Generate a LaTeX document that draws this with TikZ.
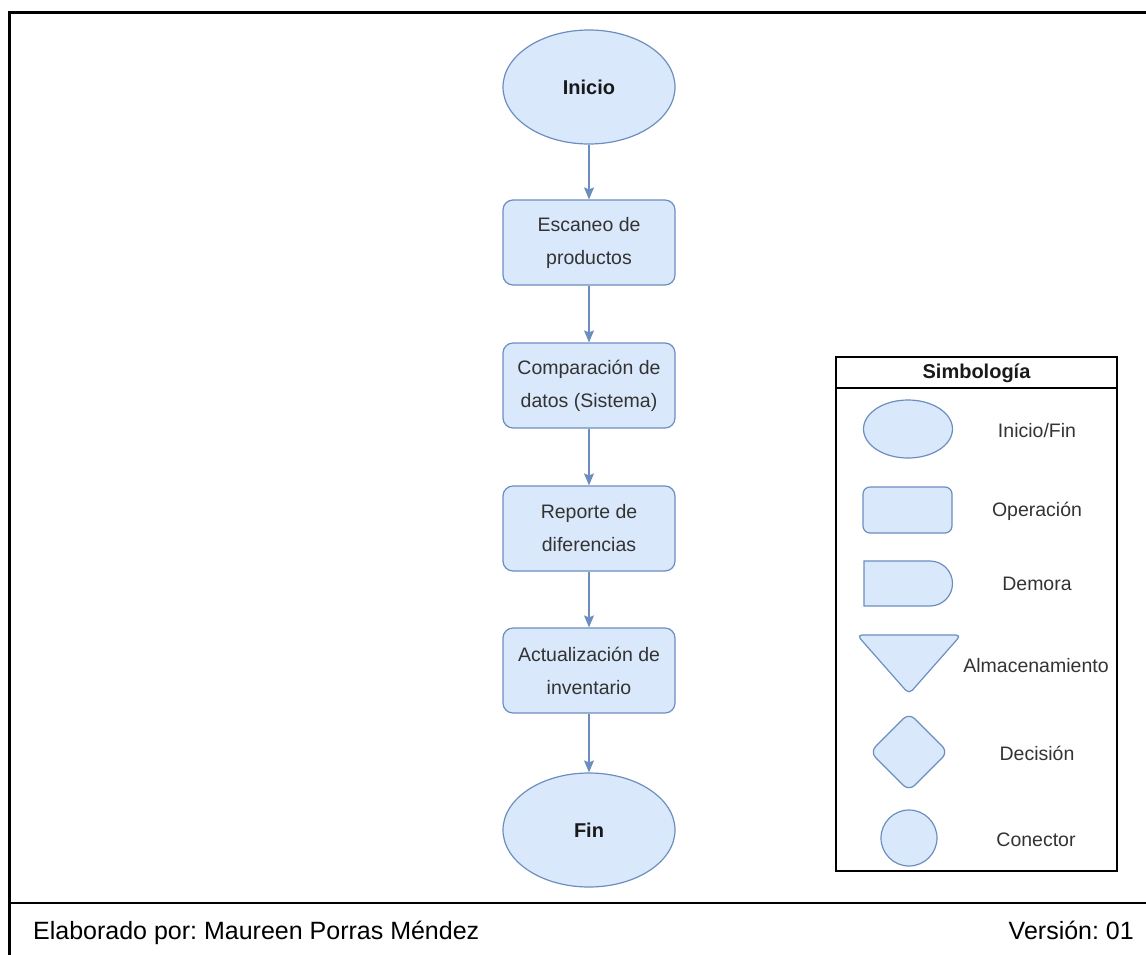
\documentclass[tikz,border=0pt]{standalone}
\usepackage{fontspec}
\setmainfont{Liberation Sans}
\usetikzlibrary{shapes.geometric,arrows.meta}
\definecolor{flowfill}{HTML}{DAE8FC}
\definecolor{flowline}{HTML}{6C8EBF}
\definecolor{txtgray}{HTML}{333333}
\frenchspacing
\begin{document}
\begin{tikzpicture}[x=1pt,y=-1pt,
  shapebase/.style={draw=flowline,fill=flowfill,line width=1.2pt},
  terminal/.style={shapebase,ellipse,minimum width=172pt,minimum height=114pt,
    inner sep=0pt,font=\fontsize{20}{24}\selectfont\bfseries,text=black!90},
  process/.style={shapebase,rectangle,rounded corners=10pt,minimum width=172pt,
    minimum height=85pt,inner sep=0pt,align=center,
    font=\fontsize{19.5}{33}\selectfont,text=txtgray},
  flowarrow/.style={draw=flowline,line width=1.2pt,
    -{Stealth[length=12pt,width=10pt,inset=2pt]}},
  legendtext/.style={font=\fontsize{19.5}{24}\selectfont,text=txtgray,anchor=center},
  footertext/.style={font=\fontsize{25}{30}\selectfont,text=black,inner sep=0pt}]
\useasboundingbox (0,0) rectangle (1146,954);

% page frame and footer rule
\draw[line width=3pt] (9.5,1000) -- (9.5,12.5) -- (1200,12.5);
\draw[line width=2.2pt] (9.5,903) -- (1200,903);
\node[footertext,anchor=base west] (author) at (33,939) {Elaborado por: Maureen Porras Méndez};
\node[footertext,anchor=base east] (version) at (1134,939) {Versión: 01};

% process flow
\node[terminal] (inicio) at (589,87) {Inicio};
\node[process] (escaneo) at (589,242.5) {Escaneo de\\productos};
\node[process] (comparacion) at (589,385.5) {Comparación de\\datos (Sistema)};
\node[process] (reporte) at (589,528.5) {Reporte de\\diferencias};
\node[process] (actualizacion) at (589,670.5) {Actualización de\\inventario};
\node[terminal] (fin) at (589,830) {Fin};

\draw[flowarrow] (inicio) -- (escaneo);
\draw[flowarrow] (escaneo) -- (comparacion);
\draw[flowarrow] (comparacion) -- (reporte);
\draw[flowarrow] (reporte) -- (actualizacion);
\draw[flowarrow] (actualizacion) -- (fin);

% symbol legend
\draw[line width=1.4pt] (836,357) rectangle (1117,871);
\draw[line width=1.4pt] (836,388) -- (1117,388);
\node[font=\fontsize{20}{24}\selectfont\bfseries,text=black!90] (legtitle) at (976.5,373) {Simbología};

\node[shapebase,ellipse,minimum width=89pt,minimum height=58pt,inner sep=0pt] (symterm) at (908,429) {};
\node[legendtext] (lblterm) at (1037,431) {Inicio/Fin};

\node[shapebase,rectangle,rounded corners=7pt,minimum width=89pt,minimum height=46pt,inner sep=0pt] (symop) at (907.5,510) {};
\node[legendtext] (lblop) at (1037,511) {Operación};

% delay symbol: flat left side, half-round right side
\draw[shapebase] (864,561) -- (930,561) arc[start angle=-90,end angle=90,radius=22.5] -- (864,606) -- cycle;
\node[legendtext] (lbldelay) at (1037,584) {Demora};

\draw[shapebase,rounded corners=5pt] (857,635) -- (961,635) -- (909,694) -- cycle;
\node[legendtext] (lblstore) at (1036,666) {Almacenamiento};

\draw[shapebase,rounded corners=8pt] (909,713) -- (948,752) -- (909,791) -- (870,752) -- cycle;
\node[legendtext] (lbldecision) at (1037,753) {Decisión};

\node[shapebase,circle,minimum size=56pt,inner sep=0pt] (symconn) at (909,838) {};
\node[legendtext] (lblconn) at (1036,840) {Conector};
\end{tikzpicture}
\end{document}
